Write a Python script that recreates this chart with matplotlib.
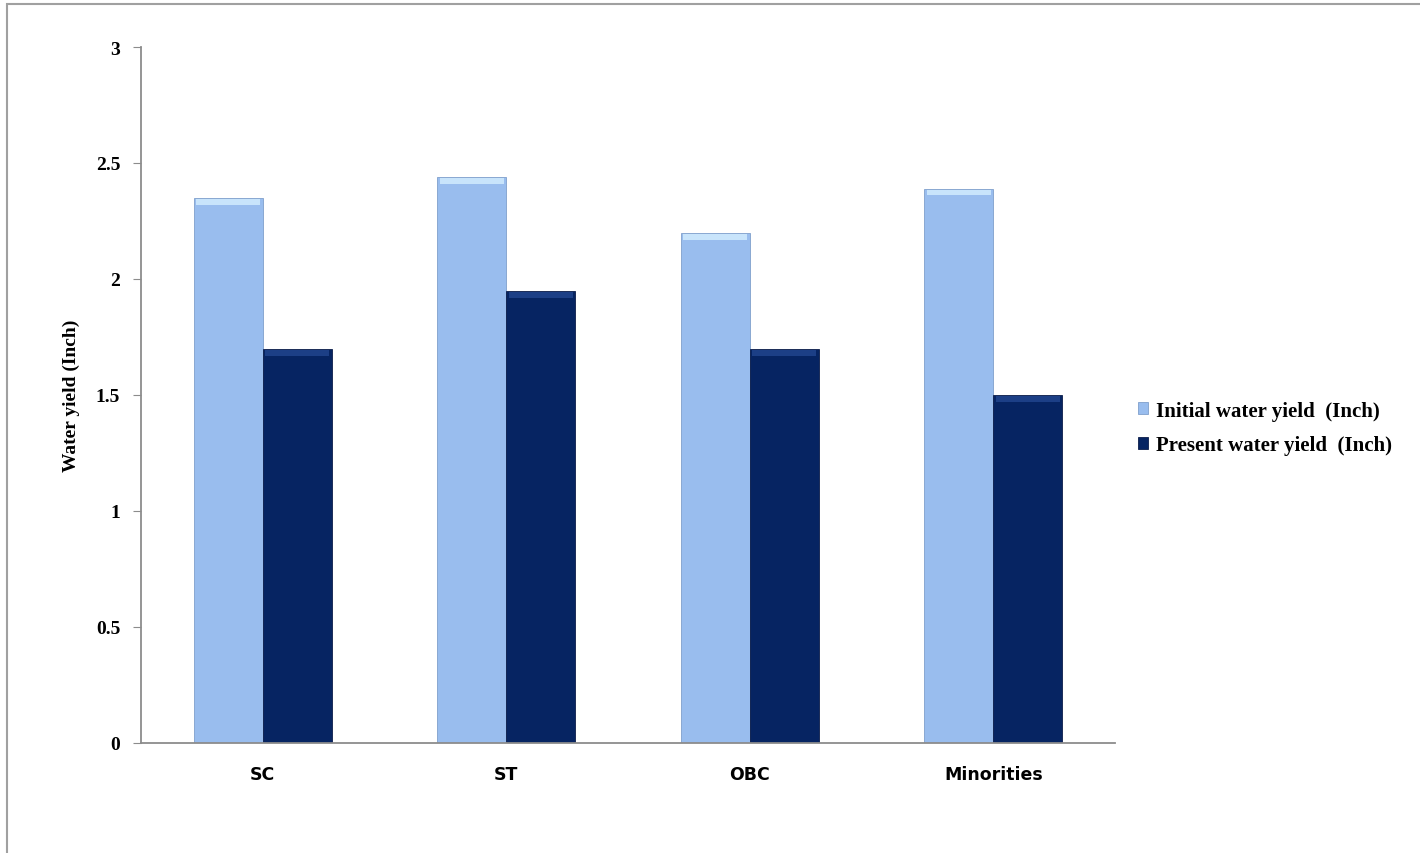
import matplotlib.pyplot as plt
from matplotlib.patches import Rectangle
import numpy as np

# Data
groups = ["SC", "ST", "OBC", "Minorities"]
initial_yield = [2.35, 2.44, 2.20, 2.39]
present_yield = [1.70, 1.95, 1.70, 1.50]
yticks = [0, 0.5, 1, 1.5, 2, 2.5, 3]
ytick_labels = ["0", "0.5", "1", "1.5", "2", "2.5", "3"]

light = "#99bdee"
dark = "#062462"
serif = "Liberation Serif"

fig = plt.figure(figsize=(14.2, 8.54), dpi=100)
# outer chart-area frame (right/bottom edges cut off in the original)
fig.patches.append(Rectangle((7 / 1420, -0.05), 1.2, 1 - 5 / 854 + 0.05,
                             transform=fig.transFigure, fill=False,
                             edgecolor="#a0a0a0", linewidth=1.5))

ax = fig.add_axes([141 / 1420, 1 - 744 / 854, (1115 - 141) / 1420, (744 - 48) / 854])

x = np.arange(len(groups))
w = 0.284
b1 = ax.bar(x - w / 2, initial_yield, w, color=light, edgecolor="#7f9fcc",
            linewidth=0.6, label="Initial water yield  (Inch)", zorder=2)
b2 = ax.bar(x + w / 2, present_yield, w, color=dark, edgecolor="#0b1d4a",
            linewidth=0.6, label="Present water yield  (Inch)", zorder=2)

# bevel highlight on bar tops
for bars, hi in [(b1, "#c8e4fb"), (b2, "#1c3f86")]:
    for r in bars:
        ax.add_patch(Rectangle((r.get_x() + 0.01, r.get_height() - 0.03),
                               r.get_width() - 0.02, 0.025, color=hi,
                               linewidth=0, zorder=3))

ax.set_xlim(-0.5, 3.5)
ax.set_ylim(0, 3)
ax.set_yticks(yticks)
ax.set_yticklabels(ytick_labels, fontfamily=serif, fontweight="bold", fontsize=14)
ax.set_xticks(x)
ax.set_xticklabels(groups, fontfamily="DejaVu Sans", fontweight="bold", fontsize=12.5)
ax.tick_params(axis="x", length=0, pad=16)
ax.tick_params(axis="y", length=6, color="#8c8c8c", pad=9)

for s in ["top", "right"]:
    ax.spines[s].set_visible(False)
for s in ["left", "bottom"]:
    ax.spines[s].set_color("#8c8c8c")
    ax.spines[s].set_linewidth(1.3)

ax.set_ylabel("Water yield (Inch)", fontfamily=serif, fontweight="bold",
              fontsize=14, labelpad=11)

ax.legend(loc="center left", bbox_to_anchor=(1.004, 0.4526), frameon=False,
          prop={"family": serif, "weight": "bold", "size": 15},
          handlelength=0.5, handleheight=0.5, handletextpad=0.4,
          labelspacing=0.7)

plt.savefig("out.png", dpi=100)
